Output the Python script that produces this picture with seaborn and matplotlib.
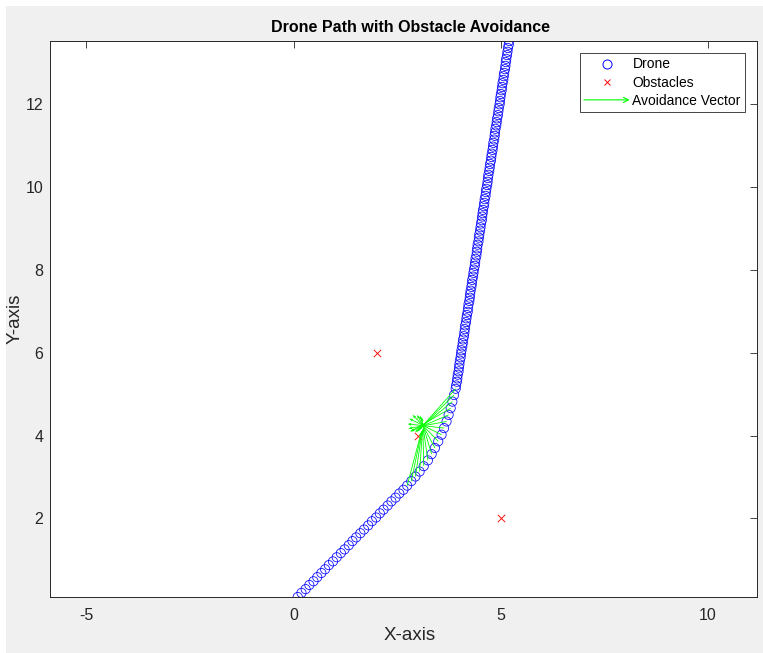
import matplotlib
matplotlib.use("Agg")
import matplotlib.pyplot as plt
import seaborn as sns
import numpy as np
from matplotlib.lines import Line2D
from matplotlib.patches import FancyArrowPatch, Rectangle
from matplotlib.legend_handler import HandlerBase

# ---------------- data ----------------
drone_x = [0.10, 0.19, 0.29, 0.38, 0.48, 0.57, 0.67, 0.76, 0.85, 0.95,
           1.04, 1.14, 1.23, 1.33, 1.42, 1.51, 1.61, 1.70, 1.80, 1.89,
           1.99, 2.08, 2.17, 2.27, 2.36, 2.46, 2.55, 2.65, 2.74,
           2.84, 2.94, 3.04, 3.14, 3.24, 3.33, 3.41, 3.49, 3.57, 3.63,
           3.69, 3.74, 3.79, 3.83, 3.87, 3.91,
           3.92, 3.94, 3.95, 3.96, 3.98, 3.99, 4.00, 4.01, 4.03, 4.04,
           4.05, 4.07, 4.08, 4.09, 4.11, 4.12, 4.13, 4.14, 4.16, 4.17,
           4.18, 4.20, 4.21, 4.22, 4.24, 4.25, 4.26, 4.27, 4.29, 4.30,
           4.31, 4.33, 4.34, 4.35, 4.37, 4.38, 4.39, 4.41, 4.42, 4.43,
           4.44, 4.46, 4.47, 4.48, 4.50, 4.51, 4.52, 4.54, 4.55, 4.56,
           4.57, 4.59, 4.60, 4.61, 4.63, 4.64, 4.65, 4.67, 4.68, 4.69,
           4.70, 4.72, 4.73, 4.74, 4.76, 4.77, 4.78, 4.80, 4.81, 4.82,
           4.84, 4.85, 4.86, 4.87, 4.89, 4.90, 4.91, 4.93, 4.94, 4.95,
           4.97, 4.98, 4.99, 5.00, 5.02, 5.03, 5.04, 5.06, 5.07, 5.08,
           5.10, 5.11, 5.12, 5.13, 5.15, 5.16, 5.17, 5.19, 5.20]
drone_y = [0.10, 0.20, 0.29, 0.39, 0.48, 0.58, 0.68, 0.77, 0.87, 0.96,
           1.06, 1.16, 1.25, 1.35, 1.45, 1.54, 1.64, 1.73, 1.83, 1.93,
           2.02, 2.12, 2.21, 2.31, 2.41, 2.50, 2.60, 2.69, 2.79,
           2.90, 3.01, 3.13, 3.26, 3.40, 3.55, 3.70, 3.86, 4.02, 4.18,
           4.34, 4.50, 4.66, 4.82, 4.98, 5.13,
           5.21, 5.30, 5.38, 5.47, 5.55, 5.64, 5.72, 5.81, 5.89, 5.98,
           6.06, 6.15, 6.23, 6.32, 6.40, 6.49, 6.57, 6.66, 6.74, 6.83,
           6.91, 6.99, 7.08, 7.17, 7.25, 7.33, 7.42, 7.50, 7.59, 7.67,
           7.76, 7.84, 7.93, 8.01, 8.10, 8.18, 8.27, 8.35, 8.44, 8.52,
           8.61, 8.69, 8.78, 8.86, 8.95, 9.03, 9.12, 9.20, 9.29, 9.37,
           9.45, 9.54, 9.62, 9.71, 9.79, 9.88, 9.96, 10.05, 10.13, 10.22,
           10.30, 10.39, 10.47, 10.56, 10.64, 10.73, 10.81, 10.90, 10.98, 11.07,
           11.15, 11.24, 11.32, 11.41, 11.49, 11.57, 11.66, 11.74, 11.83, 11.91,
           12.00, 12.08, 12.17, 12.25, 12.34, 12.42, 12.51, 12.59, 12.68, 12.76,
           12.85, 12.93, 13.02, 13.10, 13.19, 13.27, 13.36, 13.44, 13.53]

obstacle_x = [2, 3, 5]
obstacle_y = [6, 4, 2]

# avoidance vectors (origin at drone positions)
vec_x = [2.74, 2.84, 2.94, 3.04, 3.14, 3.24, 3.33, 3.41, 3.49,
         3.57, 3.63, 3.69, 3.74, 3.79, 3.83, 3.87, 3.91]
vec_y = [2.79, 2.90, 3.01, 3.13, 3.26, 3.40, 3.55, 3.70, 3.86,
         4.02, 4.18, 4.34, 4.50, 4.66, 4.82, 4.98, 5.13]
vec_u = [0.34, 0.25, 0.16, 0.07, -0.02, -0.15, -0.28, -0.43, -0.62,
         -0.78, -0.88, -0.92, -0.93, -0.96, -0.90, -0.89, -0.89]
vec_v = [1.29, 1.20, 1.11, 1.01, 0.91, 1.04, 0.93, 0.80, 0.64,
         0.39, 0.10, -0.17, -0.40, -0.56, -0.74, -0.88, -1.00]

x_ticks = [-5, 0, 5, 10]
y_ticks = [2, 4, 6, 8, 10, 12]
x_limits = (-5.87, 11.18)
y_limits = (0.10, 13.53)

title_text = "Drone Path with Obstacle Avoidance"
x_label = "X-axis"
y_label = "Y-axis"
legend_labels = ["Drone", "Obstacles", "Avoidance Vector"]

# ---------------- style ----------------
sns.set_theme(style="white")
plt.rcParams["font.family"] = ["Liberation Sans", "DejaVu Sans"]
plt.rcParams["axes.unicode_minus"] = False

AX_COLOR = "#262626"

fig = plt.figure(figsize=(7.63, 6.53), dpi=100, facecolor="#f0f0f0")
# thin white margin on top and left like the reference capture
fig.add_artist(Rectangle((0, 1 - 6 / 653), 1, 6 / 653, transform=fig.transFigure,
                         facecolor="white", edgecolor="none", zorder=-5))
fig.add_artist(Rectangle((0, 0), 6 / 763, 1, transform=fig.transFigure,
                         facecolor="white", edgecolor="none", zorder=-5))

ax = fig.add_axes([50.3 / 763, (653 - 597) / 653, 706.7 / 763, 556 / 653])
ax.set_facecolor("white")

sns.scatterplot(x=drone_x, y=drone_y, marker="o", s=44, facecolor="none",
                edgecolor="#0000ff", linewidth=0.55, ax=ax, legend=False, zorder=2)
sns.scatterplot(x=obstacle_x, y=obstacle_y, marker="x", s=28, color="#ff0000",
                linewidth=0.65, ax=ax, legend=False, zorder=3)
ax.quiver(vec_x, vec_y, vec_u, vec_v, angles="xy", scale_units="xy", scale=1,
          color="#00ff00", width=0.0012, headwidth=3.5, headlength=4.5,
          headaxislength=4, zorder=4)

ax.set_xlim(*x_limits)
ax.set_ylim(*y_limits)
ax.set_xticks(x_ticks)
ax.set_yticks(y_ticks)
ax.tick_params(direction="in", length=5, width=0.6, colors=AX_COLOR,
               top=True, right=True, labelsize=11.5)
ax.tick_params(axis="x", pad=8)
ax.tick_params(axis="y", pad=5)
for sp in ax.spines.values():
    sp.set_color(AX_COLOR)
    sp.set_linewidth(0.7)

ax.set_xlabel(x_label, fontsize=13.5, color=AX_COLOR)
ax.set_ylabel(y_label, fontsize=13.5, color=AX_COLOR)
ax.xaxis.label.set_va("center")
ax.xaxis.set_label_coords(0.509, (597 - 636) / 556)
ax.yaxis.label.set_va("center")
ax.yaxis.set_label_coords((15 - 50.3) / 706.7, 0.5)

ax.set_title(title_text, fontsize=11.5, fontweight="bold", color="black",
             x=0.509, y=1 + (41 - 28) / 556, pad=0, va="center")


# ---------------- legend ----------------
class ArrowProxy:
    pass


class HandlerArrow(HandlerBase):
    def create_artists(self, legend, orig_handle, xdescent, ydescent,
                       width, height, fontsize, trans):
        yc = (height - ydescent) / 2
        arr = FancyArrowPatch((-xdescent, yc), (-xdescent + width, yc),
                              arrowstyle="->", mutation_scale=9, lw=0.8,
                              color="#00ff00", shrinkA=0, shrinkB=0,
                              transform=trans)
        return [arr]


h_drone = Line2D([], [], linestyle="none", marker="o", markersize=6.5,
                 markerfacecolor="none", markeredgecolor="#0000ff",
                 markeredgewidth=0.7)
h_obs = Line2D([], [], linestyle="none", marker="x", markersize=5,
               color="#ff0000", markeredgewidth=0.7)
h_vec = ArrowProxy()

leg = ax.legend([h_drone, h_obs, h_vec], legend_labels, loc="upper right",
                bbox_to_anchor=(0.983, 0.978), frameon=True, fancybox=False,
                edgecolor=AX_COLOR, framealpha=1, fontsize=10,
                handlelength=3.3, handletextpad=0.2, labelspacing=0.3,
                borderpad=0.3, borderaxespad=0,
                handler_map={ArrowProxy: HandlerArrow()})
leg.get_frame().set_linewidth(0.6)
for t in leg.get_texts():
    t.set_color("black")

fig.savefig("out.png", dpi=100, facecolor=fig.get_facecolor())
